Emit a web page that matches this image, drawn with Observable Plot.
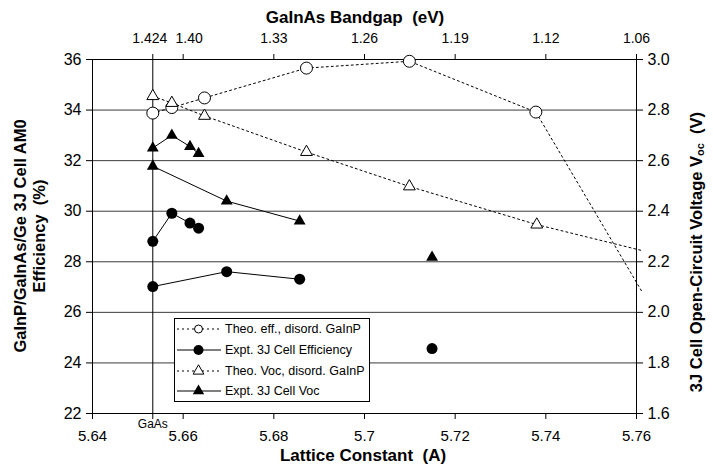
<!DOCTYPE html>
<html><head><meta charset="utf-8">
<script src="https://cdn.jsdelivr.net/npm/d3@7"></script>
<script src="https://cdn.jsdelivr.net/npm/@observablehq/plot@0.6"></script>
<style>
body{margin:0;background:#fff;}
#wrap{position:relative;width:713px;height:466px;font-family:Arial,"Liberation Sans",sans-serif;}
#wrap svg{position:absolute;left:0;top:0;}
</style></head><body><div id="wrap"></div>
<script>
// ---------- data ----------
const gaAsLattice = 5.6533;
const bandgapTickLattice = [5.6533, 5.66, 5.68, 5.70, 5.72, 5.74, 5.76];
const bandgapTickLabels = ["1.424", "1.40", "1.33", "1.26", "1.19", "1.12", "1.06"];
const latticeTicks = [5.64, 5.6533, 5.66, 5.68, 5.70, 5.72, 5.74, 5.76];
const effTicks = [22, 24, 26, 28, 30, 32, 34, 36];
const vocTicks = [1.6, 1.8, 2.0, 2.2, 2.4, 2.6, 2.8, 3.0];

// Theoretical efficiency, disordered GaInP (open circles, dotted)
const theoEffLattice = [5.6533, 5.6575, 5.6647, 5.6872, 5.7099, 5.7378];
const theoEffValue   = [33.88, 34.10, 34.48, 35.66, 35.93, 33.92];
const theoEffTailLattice = 5.7613, theoEffTailValue = 26.79;

// Experimental 3J cell efficiency (filled circles, solid)
const exptEffALattice = [5.6533, 5.6575, 5.6615, 5.6634];
const exptEffAValue   = [28.81, 29.92, 29.53, 29.33];
const exptEffBLattice = [5.6533, 5.6696, 5.6857];
const exptEffBValue   = [27.02, 27.61, 27.31];
const exptEffCLattice = [5.7149];
const exptEffCValue   = [24.57];

// Theoretical Voc, disordered GaInP (open triangles, dotted) [V]
const theoVocLattice = [5.6533, 5.6575, 5.6647, 5.6872, 5.7099, 5.7380];
const theoVocValue   = [2.855, 2.828, 2.777, 2.634, 2.498, 2.347];
const theoVocTailLattice = 5.7613, theoVocTailValue = 2.244;

// Experimental 3J cell Voc (filled triangles, solid) [V]
const exptVocALattice = [5.6533, 5.6575, 5.6615, 5.6634];
const exptVocAValue   = [2.650, 2.700, 2.656, 2.628];
const exptVocBLattice = [5.6533, 5.6696, 5.6857];
const exptVocBValue   = [2.578, 2.440, 2.361];
const exptVocCLattice = [5.7149];
const exptVocCValue   = [2.218];

const legendLabels = ["Theo. eff., disord. GaInP", "Expt. 3J Cell Efficiency", "Theo. Voc, disord. GaInP", "Expt. 3J Cell Voc"];

// ---------- helpers ----------
// secondary (Voc) axis maps linearly onto the efficiency axis: 1.6 V <-> 22 %, 3.0 V <-> 36 %
const vToY = v => 22 + (v - 1.6) * 10;
const yToV = y => 1.6 + (y - 22) / 10;
const pts = (xs, ys, f = d => d) => xs.map((x, i) => ({x, y: f(ys[i])}));

const theoEff = pts(theoEffLattice, theoEffValue);
const theoEffLine = theoEff.concat([{x: theoEffTailLattice, y: theoEffTailValue}]);
const exptEffA = pts(exptEffALattice, exptEffAValue);
const exptEffB = pts(exptEffBLattice, exptEffBValue);
const exptEffC = pts(exptEffCLattice, exptEffCValue);
const theoVoc = pts(theoVocLattice, theoVocValue, vToY);
const theoVocLine = theoVoc.concat([{x: theoVocTailLattice, y: vToY(theoVocTailValue)}]);
const exptVocA = pts(exptVocALattice, exptVocAValue, vToY);
const exptVocB = pts(exptVocBLattice, exptVocBValue, vToY);
const exptVocC = pts(exptVocCLattice, exptVocCValue, vToY);

const bgMap = new Map(bandgapTickLattice.map((p, i) => [p, bandgapTickLabels[i]]));
const fmtLattice = d => d === gaAsLattice ? "" : String(+d.toFixed(2));
// label nudges (layout only) so the two crowded top labels do not collide
const topDx = new Map([[5.6533, -3], [5.66, 6]]);
const topLabelOpts = {x: d => d, frameAnchor: "top", dy: -21, text: d => bgMap.get(d), fontSize: 14, lineAnchor: "middle"};

const dotted = {stroke: "#000", strokeWidth: 1, strokeDasharray: "2,3"};
const solid = {stroke: "#000", strokeWidth: 1};
const openCircle = {x: "x", y: "y", r: 6, fill: "#fff", stroke: "#000", strokeWidth: 1};
const fillCircle = {x: "x", y: "y", r: 5.5, fill: "#000", stroke: "none"};
const openTri = {x: "x", y: "y", r: 4.4, symbol: "triangle", fill: "#fff", stroke: "#000", strokeWidth: 1};
const fillTri = {x: "x", y: "y", r: 4.4, symbol: "triangle", fill: "#000", stroke: "none"};

const chart = Plot.plot({
  width: 713, height: 466,
  marginLeft: 92, marginRight: 77, marginTop: 59, marginBottom: 53,
  style: {fontFamily: "Arial, 'Liberation Sans', sans-serif", fontSize: "15px", color: "#000", background: "#fff"},
  x: {domain: [5.64, 5.76]},
  y: {domain: [22, 36]},
  marks: [
    Plot.ruleY(effTicks.slice(1), {stroke: "#3a3a3a", strokeWidth: 1}),
    Plot.ruleX([gaAsLattice], {stroke: "#000", strokeWidth: 1}),
    Plot.frame({stroke: "#000", strokeWidth: 1}),
    Plot.axisY(effTicks, {anchor: "left", tickSize: 6, tickPadding: 5, label: null, fontSize: 16}),
    Plot.axisY(vocTicks.map(vToY), {anchor: "right", tickSize: 6, tickPadding: 5, label: null, fontSize: 16,
      tickFormat: y => yToV(y).toFixed(1)}),
    Plot.axisX(latticeTicks, {anchor: "bottom", tickSize: 6, tickPadding: 11, label: null, fontSize: 15, tickFormat: fmtLattice}),
    Plot.axisX(bandgapTickLattice, {anchor: "top", tickSize: 6, tickFormat: () => "", label: null}),
    Plot.text(bandgapTickLattice.filter(d => !topDx.has(d)), topLabelOpts),
    ...[...topDx].map(([d, dx]) => Plot.text([d], {...topLabelOpts, dx})),
    Plot.text([gaAsLattice], {x: d => d, frameAnchor: "bottom", dy: 14, text: () => "GaAs", fontSize: 12}),
    Plot.line(theoEffLine, {x: "x", y: "y", ...dotted}),
    Plot.line(theoVocLine, {x: "x", y: "y", ...dotted}),
    Plot.line(exptEffA, {x: "x", y: "y", ...solid}),
    Plot.line(exptEffB, {x: "x", y: "y", ...solid}),
    Plot.line(exptVocA, {x: "x", y: "y", ...solid}),
    Plot.line(exptVocB, {x: "x", y: "y", ...solid}),
    Plot.dot(theoEff, openCircle),
    Plot.dot(theoVoc, openTri),
    Plot.dot(exptEffA, fillCircle),
    Plot.dot(exptEffB, fillCircle),
    Plot.dot(exptEffC, fillCircle),
    Plot.dot(exptVocA, fillTri),
    Plot.dot(exptVocB, fillTri),
    Plot.dot(exptVocC, fillTri)
  ]
});
document.getElementById("wrap").appendChild(chart);

// ---------- titles ----------
const svg = d3.select(chart);
const title = (x, y, rot, size) => svg.append("text").attr("text-anchor", "middle").attr("dominant-baseline", "central")
    .attr("font-weight", "bold").attr("font-size", size).attr("fill", "#000")
    .attr("transform", `translate(${x},${y}) rotate(${rot})`);
title(355, 17, 0, 17).text("GaInAs Bandgap  (eV)");
title(363, 455, 0, 17).text("Lattice Constant  (A)");
title(20, 236, -90, 16.5).text("GaInP/GaInAs/Ge 3J Cell AM0");
title(39, 236, -90, 16.5).text("Efficiency  (%)");
const rt = title(696, 252, -90, 16.5);
rt.append("tspan").text("3J Cell Open-Circuit Voltage V");
rt.append("tspan").attr("font-size", 11).attr("dy", 4).text("oc");
rt.append("tspan").attr("dy", -4).text("  (V)");

// ---------- legend ----------
const lg = svg.append("g").attr("font-size", 12.5).attr("fill", "#000").attr("text-anchor", "start");
lg.append("rect").attr("x", 174.5).attr("y", 318.5).attr("width", 195).attr("height", 83)
  .attr("fill", "#fff").attr("stroke", "#000").attr("stroke-width", 1);
const rowY = [329, 350, 371, 391];
const styles = [
  {dash: "2,3", sym: d3.symbolCircle, size: Math.PI * 16, fill: "#fff"},
  {dash: null, sym: d3.symbolCircle, size: Math.PI * 25, fill: "#000"},
  {dash: "2,3", sym: d3.symbolTriangle, size: Math.PI * 16, fill: "#fff"},
  {dash: null, sym: d3.symbolTriangle, size: Math.PI * 18, fill: "#000"}
];
legendLabels.forEach((lab, i) => {
  const y = rowY[i], s = styles[i];
  const ln = lg.append("line").attr("x1", 177).attr("x2", 221).attr("y1", y).attr("y2", y)
    .attr("stroke", "#000").attr("stroke-width", 1);
  if (s.dash) ln.attr("stroke-dasharray", s.dash);
  lg.append("path").attr("d", d3.symbol(s.sym, s.size)())
    .attr("transform", `translate(198.5,${y})`).attr("fill", s.fill)
    .attr("stroke", s.fill === "#fff" ? "#000" : "none");
  lg.append("text").attr("x", 225).attr("y", y).attr("dominant-baseline", "central")
    .attr("text-anchor", "start").text(lab);
});
</script>
</body></html>
